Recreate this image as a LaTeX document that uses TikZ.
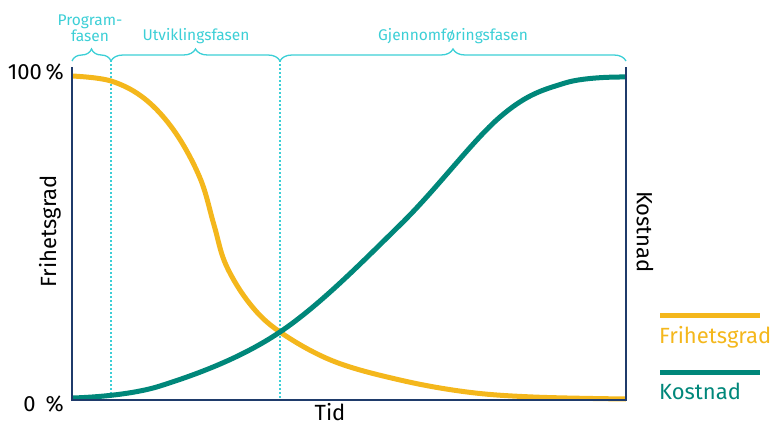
\documentclass[tikz,border=0pt]{standalone}
\usepackage{fontspec}
\setmainfont{Fira Sans}
\usetikzlibrary{decorations.pathreplacing,positioning}

\definecolor{fgyellow}{HTML}{F4B71C}
\definecolor{kostteal}{HTML}{00877A}
\definecolor{phasecyan}{HTML}{3CCFD6}
\definecolor{axisnavy}{HTML}{1F3B6B}

\begin{document}
\begin{tikzpicture}[
  x=1pt, y=-1pt,
  axis/.style  = {draw=axisnavy, line width=1.4pt},
  phase/.style = {draw=phasecyan, line width=1.3pt, dash pattern=on 2pt off 2pt},
  brace/.style = {draw=phasecyan, line width=1.3pt,
                  decorate, decoration={brace, amplitude=12pt}},
  curve/.style = {line width=5pt},
  phaselbl/.style = {text=phasecyan, font=\fontsize{15.5}{16}\selectfont, align=center, inner sep=0pt},
  axlbl/.style    = {font=\fontsize{22}{24}\selectfont, inner sep=0pt},
  legbar/.style   = {line width=5pt},
  leglbl/.style   = {font=\fontsize{22}{24}\selectfont, inner sep=0pt, anchor=west}
]
\useasboundingbox (0,0) rectangle (772,428);

% ---- constants ----
\def\xL{72}     % left axis
\def\xR{626}    % right axis
\def\xA{111}    % end of programfasen
\def\xB{280}    % end of utviklingsfasen
\def\yT{67}     % top of axes
\def\yB{400}    % bottom axis

% ---- phase separators ----
\draw[phase] (\xA,60) -- (\xA,\yB);
\draw[phase] (\xB,60) -- (\xB,\yB);

% ---- curves ----
\draw[curve, fgyellow] plot[smooth, tension=0.6] coordinates {
  (72,76) (111,81) (145,99) (175,132) (200,178) (214,225)
  (226,265) (250,304) (280,332) (333,361) (400,380) (467,392)
  (533,397) (626,399)};
\draw[curve, kostteal] plot[smooth, tension=0.6] coordinates {
  (72,398) (160,386) (280,332) (400,225) (500,117) (565,83)
  (626,77)};

% ---- axes ----
\coordinate (tl) at (\xL,\yT);
\coordinate (bl) at (\xL,\yB);
\coordinate (br) at (\xR,\yB);
\coordinate (tr) at (\xR,\yT);
\draw[axis] (tl) -- (bl) -- (br) -- (tr);

% ---- braces ----
\coordinate (p0) at (\xL,61);
\coordinate (p1) at (\xA,61);
\coordinate (p2) at (\xB,61);
\coordinate (p3) at (\xR,61);
\draw[brace] (p0) -- (p1);
\draw[brace] (p1) -- (p2);
\draw[brace] (p2) -- (p3);

\node[phaselbl] (prog) at (90,28) {Program-\\fasen};
\node[phaselbl] (utv)  at (196,36) {Utviklingsfasen};
\node[phaselbl] (gjen) at (453,36) {Gjennomføringsfasen};

% ---- axis labels ----
\node[axlbl, anchor=east] (top)  at (64,72)  {100\,\%};
\node[axlbl, anchor=east] (zero) at (64,404) {0\hspace{0.45em}\%};
\node[axlbl, rotate=90]   (frih) at (50,231) {Frihetsgrad};
\node[axlbl, rotate=-90]  (kost) at (645,232) {Kostnad};
\node[axlbl, anchor=base] (tid)  at (330,420) {Tid};

% ---- legend ----
\coordinate (ly1) at (660,315);
\coordinate (ly2) at (760,315);
\coordinate (lt1) at (660,372);
\coordinate (lt2) at (760,372);
\draw[legbar, fgyellow] (ly1) -- (ly2);
\draw[legbar, kostteal] (lt1) -- (lt2);
\node[leglbl, text=fgyellow] (legf) at (659,337) {Frihetsgrad};
\node[leglbl, text=kostteal] (legk) at (659,391) {Kostnad};

\end{tikzpicture}
\end{document}
